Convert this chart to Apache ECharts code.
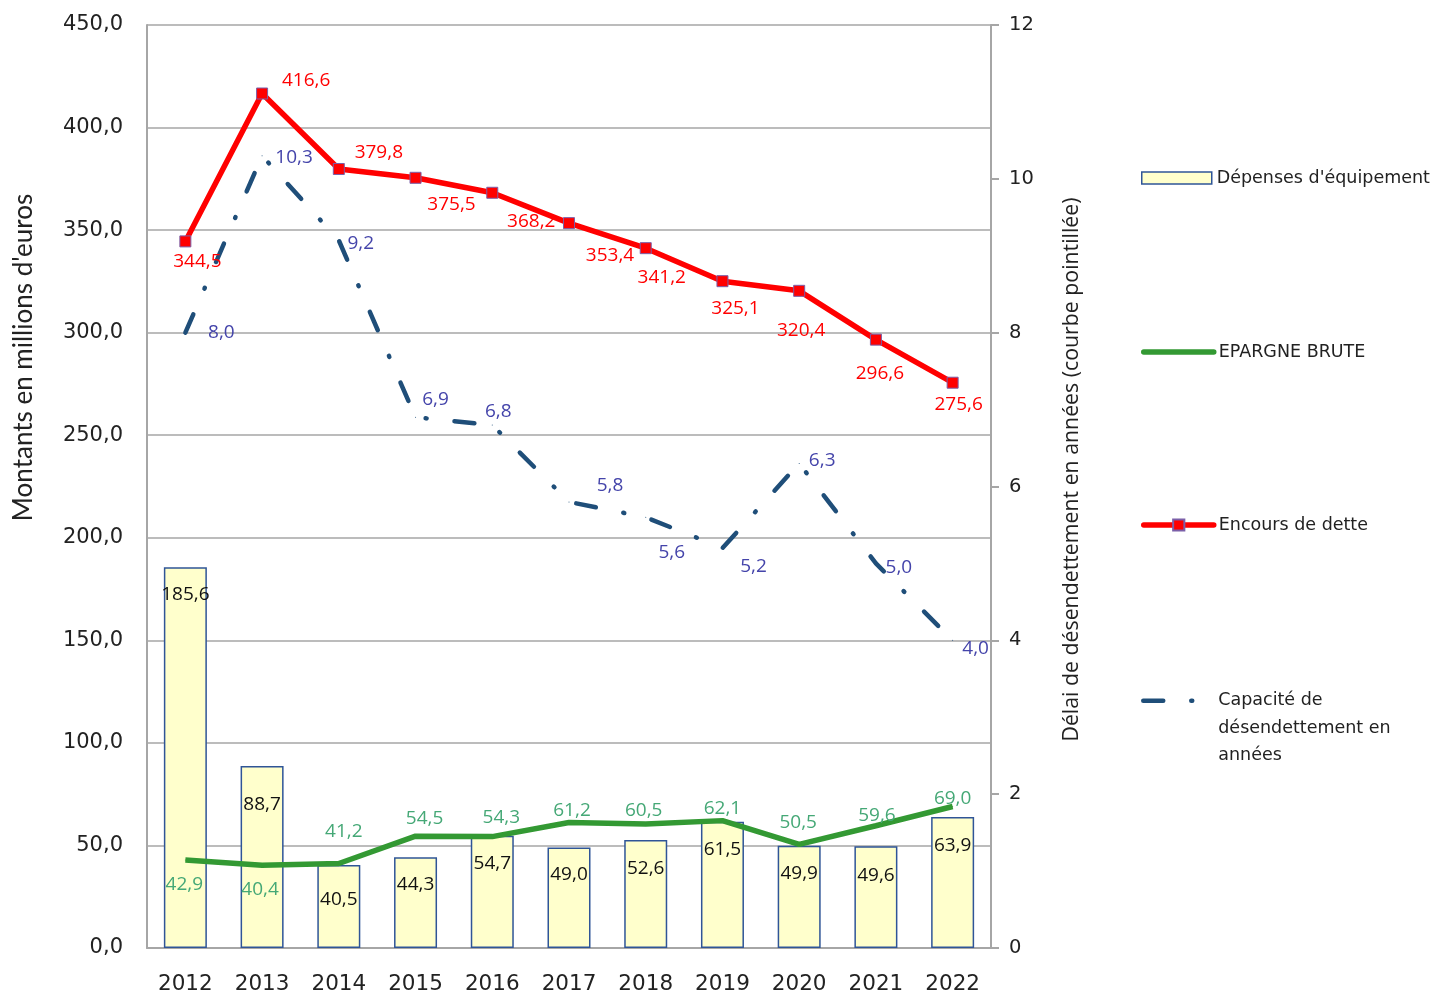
<!DOCTYPE html>
<html>
<head>
<meta charset="utf-8">
<script src="https://cdn.jsdelivr.net/npm/echarts@6/dist/echarts.min.js"></script>
<style>
html,body{margin:0;padding:0;background:#fff;}
#chart{width:1436px;height:995px;}
</style>
</head>
<body>
<div id="chart"></div>
<script>
// ---- data ----
var years = ['2012','2013','2014','2015','2016','2017','2018','2019','2020','2021','2022'];
var depensesEquipement = [185.6, 88.7, 40.5, 44.3, 54.7, 49.0, 52.6, 61.5, 49.9, 49.6, 63.9];
var epargneBrute = [42.9, 40.4, 41.2, 54.5, 54.3, 61.2, 60.5, 62.1, 50.5, 59.6, 69.0];
var encoursDette = [344.5, 416.6, 379.8, 375.5, 368.2, 353.4, 341.2, 325.1, 320.4, 296.6, 275.6];
var capaciteDesendettement = [8.0, 10.3, 9.2, 6.9, 6.8, 5.8, 5.6, 5.2, 6.3, 5.0, 4.0];

var seriesNames = ["Dépenses d'équipement", 'EPARGNE BRUTE', 'Encours de dette', 'Capacité de désendettement en années'];

// ---- label placement (pixels, relative to point) ----
var barLabelDy = [0, 11, 7, 0, 0, 0, 1, 0, 0, 2, 1];
var greenLabelOff = [[-1,25],[-2,24],[5,-32],[9,-18],[9,-19],[3,-12],[-2,-13],[0,-12],[-1,-22],[1,-10],[0,-8]];
var redLabelOff = [[12,20],[44,-13],[40,-16],[36,27],[39,29],[41,32],[16,29],[13,27],[2,40],[4,34],[6,22]];
var blueLabelOff = [[36,0],[32,2],[22,3],[20,-18],[6,-13],[41,-16],[26,35],[31,19],[23,-3],[23,4],[23,8]];

function fr(v, d) { return v.toFixed(d).replace('.', ','); }

var labelFont = 'Open Sans';
var labelSize = 19;

var barData = depensesEquipement.map(function (v, i) {
  return { value: v, label: { offset: [0, barLabelDy[i]] } };
});
var greenData = epargneBrute.map(function (v, i) {
  return { value: v, label: { offset: greenLabelOff[i] } };
});
var redData = encoursDette.map(function (v, i) {
  return { value: v, label: { offset: redLabelOff[i] } };
});
var blueData = capaciteDesendettement.map(function (v, i) {
  return { value: v, label: { offset: blueLabelOff[i] } };
});

var chart = echarts.init(document.getElementById('chart'), null, { renderer: 'canvas' });

var legendText = { fontFamily: 'DejaVu Sans', fontSize: 17.5, color: '#222', lineHeight: 20 };

var option = {
  backgroundColor: '#ffffff',
  animation: false,
  grid: { left: 147, right: 445, top: 25, bottom: 46, containLabel: false },
  legend: [
    {
      data: [seriesNames[0]], left: 1141, top: 168, padding: 0, orient: 'vertical',
      itemWidth: 70, itemHeight: 12, icon: 'rect',
      itemStyle: { color: '#FFFFCC', borderColor: '#2F5597', borderWidth: 1.5 },
      textStyle: legendText
    },
    {
      data: [seriesNames[1]], left: 1141, top: 342, padding: 0, orient: 'vertical',
      itemWidth: 70, itemHeight: 14,
      itemStyle: { opacity: 0 },
      lineStyle: { width: 5.5, cap: 'round' },
      textStyle: legendText
    },
    {
      data: [seriesNames[2]], left: 1141, top: 515, padding: 0, orient: 'vertical',
      itemWidth: 70, itemHeight: 14,
      lineStyle: { width: 5.5, cap: 'round' },
      textStyle: legendText
    },
    {
      data: [seriesNames[3]], left: 1141, top: 632, padding: 0, orient: 'vertical',
      itemWidth: 70, itemHeight: 14,
      itemStyle: { opacity: 0 },
      lineStyle: { width: 4.5, cap: 'round' },
      formatter: function () { return ' \n \nCapacité de\ndésendettement en\nannées'; },
      textStyle: { fontFamily: 'DejaVu Sans', fontSize: 17.5, color: '#222', lineHeight: 27.5 }
    }
  ],
  xAxis: {
    type: 'category',
    data: years,
    boundaryGap: true,
    axisLine: { show: true, lineStyle: { color: '#a6a6a6', width: 2 } },
    axisTick: { show: false },
    axisLabel: { fontFamily: 'DejaVu Sans', fontSize: 21.5, color: '#222', margin: 25 },
    splitLine: { show: false }
  },
  yAxis: [
    {
      type: 'value', min: 0, max: 450, interval: 50,
      name: "Montants en millions d'euros",
      nameLocation: 'middle', nameRotate: 90, nameGap: 110,
      nameTextStyle: { fontFamily: 'Lato', fontSize: 26, color: '#222', padding: [0, 0, 0, 258] },
      axisLine: { show: true, lineStyle: { color: '#a6a6a6', width: 2 } },
      axisTick: { show: false },
      axisLabel: { fontFamily: 'DejaVu Sans', fontSize: 21, color: '#222', margin: 24,
        formatter: function (v) { return fr(v, 1); } },
      splitLine: { show: true, lineStyle: { color: '#a6a6a6', width: 1.5 } }
    },
    {
      type: 'value', min: 0, max: 12, interval: 2, position: 'right',
      name: 'Délai de désendettement en années (courbe pointillée)',
      nameLocation: 'middle', nameRotate: 90, nameGap: 70,
      nameTextStyle: { fontFamily: 'Open Sans', fontSize: 21.3, color: '#222', padding: [0, 0, 0, 34] },
      axisLine: { show: true, lineStyle: { color: '#a6a6a6', width: 2 } },
      axisTick: { show: true, length: 8, lineStyle: { color: '#a6a6a6', width: 2 } },
      axisLabel: { fontFamily: 'DejaVu Sans', fontSize: 19.5, color: '#222', margin: 18 },
      splitLine: { show: false }
    }
  ],
  series: [
    {
      name: seriesNames[0],
      type: 'bar',
      yAxisIndex: 0,
      data: barData,
      barWidth: 43,
      z: 1,
      itemStyle: { color: '#FFFFCC', borderColor: '#2F5597', borderWidth: 1.5 },
      label: {
        show: true, position: 'insideTop', distance: 18,
        fontFamily: labelFont, fontSize: labelSize, color: '#111', textBorderWidth: 0,
        formatter: function (p) { return fr(p.value, 1); }
      }
    },
    {
      name: seriesNames[1],
      type: 'line',
      yAxisIndex: 0,
      data: greenData,
      z: 3,
      symbol: 'circle',
      symbolSize: 1,
      showAllSymbol: true,
      lineStyle: { color: '#339933', width: 5.5 },
      itemStyle: { color: '#339933' },
      label: {
        show: true, position: 'inside',
        fontFamily: labelFont, fontSize: labelSize, color: '#45A876', textBorderWidth: 0,
        formatter: function (p) { return fr(p.value, 1); }
      }
    },
    {
      name: seriesNames[2],
      type: 'line',
      yAxisIndex: 0,
      data: redData,
      z: 4,
      symbol: 'rect',
      symbolSize: 11,
      showAllSymbol: true,
      lineStyle: { color: '#FF0000', width: 5.5 },
      itemStyle: { color: '#FF0000', borderColor: '#7B5FA8', borderWidth: 1 },
      label: {
        show: true, position: 'inside',
        fontFamily: labelFont, fontSize: labelSize, color: '#FF0000', textBorderWidth: 0,
        formatter: function (p) { return fr(p.value, 1); }
      }
    },
    {
      name: seriesNames[3],
      type: 'line',
      yAxisIndex: 1,
      data: blueData,
      z: 3,
      symbol: 'circle',
      symbolSize: 1,
      showAllSymbol: true,
      lineStyle: { color: '#1F4E79', width: 4.5, type: [20, 28, 1, 28], cap: 'round' },
      itemStyle: { color: '#1F4E79' },
      label: {
        show: true, position: 'inside',
        fontFamily: labelFont, fontSize: labelSize, color: '#4444AA', textBorderWidth: 0,
        formatter: function (p) { return fr(p.value, 1); }
      }
    }
  ]
};

chart.setOption(option);
</script>
</body>
</html>
